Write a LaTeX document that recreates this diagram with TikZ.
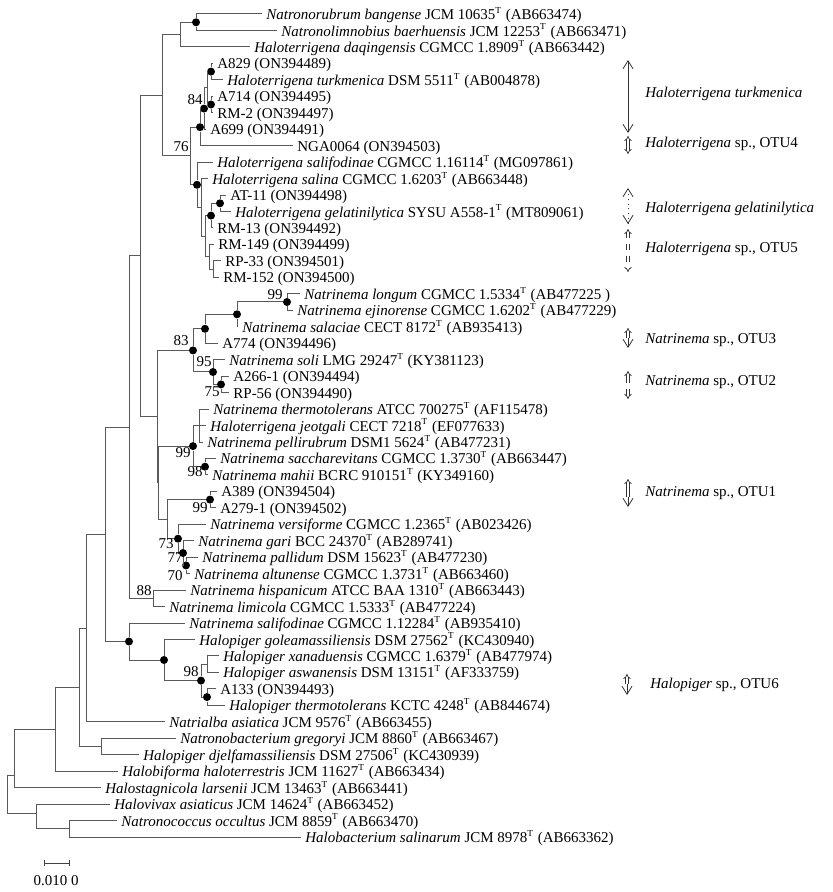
\documentclass[tikz,border=0pt]{standalone}
\usepackage{fontspec}
\setmainfont{Liberation Serif}
\usetikzlibrary{arrows.meta}
\newcommand{\treefont}{\fontsize{7.5}{9}\selectfont}
\newcommand{\typemark}{\textsuperscript{\fontsize{4.6}{5}\selectfont T}}
\newcommand{\typestrain}[3]{\textit{#1} #2\typemark{} (#3)}
\newcommand{\isolate}[2]{#1 (#2)}
\tikzset{
    %Define standard branch and tips
    branch/.style={
      draw=black!65, line width=0.5pt,
      to path={|- (\tikztotarget)}},
    leaf/.style={
      anchor=west, inner xsep=2pt, inner ysep=0pt,
      text height=1.5ex, text depth=0.3ex,
      font=\treefont},
    dot/.style={
      circle, fill=black,
      inner sep=0pt, minimum size=4pt},
    boot/.style={
      inner sep=0pt, font=\treefont},
    cladename/.style={
      anchor=west, inner sep=0pt, font=\treefont},
    rangeline/.style={
      draw=black!80, line width=0.4pt,
      {Straight Barb[length=4pt,width=5pt]}-{Straight Barb[length=4pt,width=5pt]}},
    rangedouble/.style={
      draw=black!80, line width=0.35pt, double, double distance=0.9pt,
      {Implies}-{Implies}},
    rangeup/.style={
      draw=black!80, line width=0.35pt, double, double distance=0.9pt,
      -{Implies}},
    rangedown/.style={
      draw=black!80, line width=0.4pt,
      -{Straight Barb[length=4pt,width=5pt]}},
}

\begin{document}
\begin{tikzpicture}[x=0.5pt, y=-0.5pt]
    \useasboundingbox (0,0) rectangle (832,892);
    % leaves
    \node (bangense) [leaf] at (262,14.0)
          {\typestrain{Natronorubrum bangense}{JCM 10635}{AB663474}};
    \node (baerhuensis) [leaf] at (277,30.5)
          {\typestrain{Natronolimnobius baerhuensis}{JCM 12253}{AB663471}};
    \node (daqingensis) [leaf] at (250,46.9)
          {\typestrain{Haloterrigena daqingensis}{CGMCC 1.8909}{AB663442}};
    \node (a829) [leaf] at (213,63.4)
          {\isolate{A829}{ON394489}};
    \node (turkmenica) [leaf] at (223,79.8)
          {\typestrain{Haloterrigena turkmenica}{DSM 5511}{AB004878}};
    \node (a714) [leaf] at (213,96.3)
          {\isolate{A714}{ON394495}};
    \node (rm2) [leaf] at (213,112.8)
          {\isolate{RM-2}{ON394497}};
    \node (a699) [leaf] at (206,129.2)
          {\isolate{A699}{ON394491}};
    \node (nga0064) [leaf] at (293,145.7)
          {\isolate{NGA0064}{ON394503}};
    \node (salifodinae) [leaf] at (213,162.1)
          {\typestrain{Haloterrigena salifodinae}{CGMCC 1.16114}{MG097861}};
    \node (salina) [leaf] at (208,178.6)
          {\typestrain{Haloterrigena salina}{CGMCC 1.6203}{AB663448}};
    \node (at11) [leaf] at (226,195.1)
          {\isolate{AT-11}{ON394498}};
    \node (gelatinilytica) [leaf] at (231,211.5)
          {\typestrain{Haloterrigena gelatinilytica}{SYSU A558-1}{MT809061}};
    \node (rm13) [leaf] at (213,228.0)
          {\isolate{RM-13}{ON394492}};
    \node (rm149) [leaf] at (214,244.4)
          {\isolate{RM-149}{ON394499}};
    \node (rp33) [leaf] at (221,260.9)
          {\isolate{RP-33}{ON394501}};
    \node (rm152) [leaf] at (219,277.4)
          {\isolate{RM-152}{ON394500}};
    \node (longum) [leaf] at (300,293.8)
          {\typestrain{Natrinema longum}{CGMCC 1.5334}{AB477225 }};
    \node (ejinorense) [leaf] at (293,310.3)
          {\typestrain{Natrinema ejinorense}{CGMCC 1.6202}{AB477229}};
    \node (salaciae) [leaf] at (238,326.7)
          {\typestrain{Natrinema salaciae}{CECT 8172}{AB935413}};
    \node (a774) [leaf] at (218,343.2)
          {\isolate{A774}{ON394496}};
    \node (soli) [leaf] at (225,359.7)
          {\typestrain{Natrinema soli}{LMG 29247}{KY381123}};
    \node (a2661) [leaf] at (229,376.1)
          {\isolate{A266-1}{ON394494}};
    \node (rp56) [leaf] at (229,392.6)
          {\isolate{RP-56}{ON394490}};
    \node (thermotolerans) [leaf] at (209,409.0)
          {\typestrain{Natrinema thermotolerans}{ATCC 700275}{AF115478}};
    \node (jeotgali) [leaf] at (206,425.5)
          {\typestrain{Haloterrigena jeotgali}{CECT 7218}{EF077633}};
    \node (pellirubrum) [leaf] at (203,442.0)
          {\typestrain{Natrinema pellirubrum}{DSM1 5624}{AB477231}};
    \node (saccharevitans) [leaf] at (216,458.4)
          {\typestrain{Natrinema saccharevitans}{CGMCC 1.3730}{AB663447}};
    \node (mahii) [leaf] at (208,474.9)
          {\typestrain{Natrinema mahii}{BCRC 910151}{KY349160}};
    \node (a389) [leaf] at (217,491.3)
          {\isolate{A389}{ON394504}};
    \node (a2791) [leaf] at (216,507.8)
          {\isolate{A279-1}{ON394502}};
    \node (versiforme) [leaf] at (206,524.3)
          {\typestrain{Natrinema versiforme}{CGMCC 1.2365}{AB023426}};
    \node (gari) [leaf] at (194,540.7)
          {\typestrain{Natrinema gari}{BCC 24370}{AB289741}};
    \node (pallidum) [leaf] at (198,557.2)
          {\typestrain{Natrinema pallidum}{DSM 15623}{AB477230}};
    \node (altunense) [leaf] at (190,573.6)
          {\typestrain{Natrinema altunense}{CGMCC 1.3731}{AB663460}};
    \node (hispanicum) [leaf] at (186,590.1)
          {\typestrain{Natrinema hispanicum}{ATCC BAA 1310}{AB663443}};
    \node (limicola) [leaf] at (165,606.6)
          {\typestrain{Natrinema limicola}{CGMCC 1.5333}{AB477224}};
    \node (nsalifodinae) [leaf] at (185,623.0)
          {\typestrain{Natrinema salifodinae}{CGMCC 1.12284}{AB935410}};
    \node (goleamassiliensis) [leaf] at (195,639.5)
          {\typestrain{Halopiger goleamassiliensis}{DSM 27562}{KC430940}};
    \node (xanaduensis) [leaf] at (219,655.9)
          {\typestrain{Halopiger xanaduensis}{CGMCC 1.6379}{AB477974}};
    \node (aswanensis) [leaf] at (219,672.4)
          {\typestrain{Halopiger aswanensis}{DSM 13151}{AF333759}};
    \node (a133) [leaf] at (216,688.9)
          {\isolate{A133}{ON394493}};
    \node (hthermotolerans) [leaf] at (225,705.3)
          {\typestrain{Halopiger thermotolerans}{KCTC 4248}{AB844674}};
    \node (asiatica) [leaf] at (165,721.8)
          {\typestrain{Natrialba asiatica}{JCM 9576}{AB663455}};
    \node (gregoryi) [leaf] at (176,738.2)
          {\typestrain{Natronobacterium gregoryi}{JCM 8860}{AB663467}};
    \node (djelfamassiliensis) [leaf] at (139,754.7)
          {\typestrain{Halopiger djelfamassiliensis}{DSM 27506}{KC430939}};
    \node (haloterrestris) [leaf] at (118,771.2)
          {\typestrain{Halobiforma haloterrestris}{JCM 11627}{AB663434}};
    \node (larsenii) [leaf] at (101,787.6)
          {\typestrain{Halostagnicola larsenii}{JCM 13463}{AB663441}};
    \node (asiaticus) [leaf] at (110,804.1)
          {\typestrain{Halovivax asiaticus}{JCM 14624}{AB663452}};
    \node (occultus) [leaf] at (117,820.5)
          {\typestrain{Natronococcus occultus}{JCM 8859}{AB663470}};
    \node (salinarum) [leaf] at (301,837.0)
          {\typestrain{Halobacterium salinarum}{JCM 8978}{AB663362}};

    % Haloterrigena clades
    \node (cNatrono) [dot] at (196,22.3) {}
          edge [branch] (bangense)
          edge [branch] (baerhuensis);
    \coordinate (cDaqing) at (180,34.6);
    \path (cDaqing) edge [branch] (cNatrono) edge [branch] (daqingensis);
    \node (cTurk) [dot] at (211,71.6) {}
          edge [branch] (a829)
          edge [branch] (turkmenica);
    \node (cRM2) [dot] at (211,104.5) {}
          edge [branch] (a714)
          edge [branch] (rm2);
    \coordinate (cTurkAll) at (207,88);
    \path (cTurkAll) edge [branch] (cTurk) edge [branch] (cRM2);
    \node (c84) [dot] at (204,108.6) {}
          edge [branch] (cTurkAll)
          edge [branch] (a699);
    \node (cNGA) [dot] at (200,127.2) {}
          edge [branch] (c84)
          edge [branch] (nga0064);
    \node (cGelat) [dot] at (220,203.3) {}
          edge [branch] (at11)
          edge [branch] (gelatinilytica);
    \node (cRM13) [dot] at (211,215.6) {}
          edge [branch] (cGelat)
          edge [branch] (rm13);
    \coordinate (cRP33) at (213,269.1);
    \path (cRP33) edge [branch] (rp33) edge [branch] (rm152);
    \coordinate (cRM149) at (209,256.8);
    \path (cRM149) edge [branch] (rm149) edge [branch] (cRP33);
    \coordinate (cOTU5) at (205,236.2);
    \path (cOTU5) edge [branch] (cRM13) edge [branch] (cRM149);
    \coordinate (cSalina) at (201,207.4);
    \path (cSalina) edge [branch] (salina) edge [branch] (cOTU5);
    \node (cSalif) [dot] at (197,184.8) {}
          edge [branch] (salifodinae)
          edge [branch] (cSalina);
    \coordinate (c76) at (190,156);
    \path (c76) edge [branch] (cNGA) edge [branch] (cSalif);
    \coordinate (cHaloter) at (162,95.3);
    \path (cHaloter) edge [branch] (cDaqing) edge [branch] (c76);

    % Natrinema clades
    \node (cLongum) [dot] at (287,302) {}
          edge [branch] (longum)
          edge [branch] (ejinorense);
    \node (cSalac) [dot] at (237,314.3) {}
          edge [branch] (cLongum)
          edge [branch] (salaciae);
    \node (cA774) [dot] at (205,328.8) {}
          edge [branch] (cSalac)
          edge [branch] (a774);
    \node (cRP56) [dot] at (221,384.4) {}
          edge [branch] (a2661)
          edge [branch] (rp56);
    \node (cSoli) [dot] at (213,372) {}
          edge [branch] (soli)
          edge [branch] (cRP56);
    \node (c83) [dot] at (193,350.4) {}
          edge [branch] (cA774)
          edge [branch] (cSoli);
    \coordinate (cThermo) at (199,425.5);
    \path (cThermo) edge [branch] (thermotolerans)
          edge [branch] (jeotgali) edge [branch] (pellirubrum);
    \node (cMahii) [dot] at (205,466.7) {}
          edge [branch] (saccharevitans)
          edge [branch] (mahii);
    \node (cPelli) [dot] at (193,446.1) {}
          edge [branch] (cThermo)
          edge [branch] (cMahii);
    \node (cA389) [dot] at (210,499.6) {}
          edge [branch] (a389)
          edge [branch] (a2791);
    \node (cAltun) [dot] at (186,565.4) {}
          edge [branch] (pallidum)
          edge [branch] (altunense);
    \node (cGari) [dot] at (183,553) {}
          edge [branch] (gari)
          edge [branch] (cAltun);
    \node (cVersi) [dot] at (178,538.7) {}
          edge [branch] (versiforme)
          edge [branch] (cGari);
    \coordinate (cOTU1) at (167,519.1);
    \path (cOTU1) edge [branch] (cA389) edge [branch] (cVersi);
    \coordinate (cNatriB) at (158,482.6);
    \path (cNatriB) edge [branch] (cPelli) edge [branch] (cOTU1);
    \coordinate (cNatriA) at (157,416.5);
    \path (cNatriA) edge [branch] (c83) edge [branch] (cNatriB);
    \coordinate (cUpper) at (140,255.9);
    \path (cUpper) edge [branch] (cHaloter) edge [branch] (cNatriA);
    \coordinate (cHisp) at (153,598.4);
    \path (cHisp) edge [branch] (hispanicum) edge [branch] (limicola);
    \coordinate (cCore) at (129,427);
    \path (cCore) edge [branch] (cUpper) edge [branch] (cHisp);

    % Halopiger and outgroups
    \coordinate (cXanadu) at (207,664.2);
    \path (cXanadu) edge [branch] (xanaduensis) edge [branch] (aswanensis);
    \node (cA133) [dot] at (207,697.1) {}
          edge [branch] (a133)
          edge [branch] (hthermotolerans);
    \node (cHalopig) [dot] at (201,680.6) {}
          edge [branch] (cXanadu)
          edge [branch] (cA133);
    \node (cGolea) [dot] at (164,660) {}
          edge [branch] (goleamassiliensis)
          edge [branch] (cHalopig);
    \node (cNsalif) [dot] at (129,641.5) {}
          edge [branch] (nsalifodinae)
          edge [branch] (cGolea);
    \coordinate (cBig) at (105,534);
    \path (cBig) edge [branch] (cCore) edge [branch] (cNsalif);
    \coordinate (cNatrialba) at (86,628);
    \path (cNatrialba) edge [branch] (cBig) edge [branch] (asiatica);
    \coordinate (cGreg) at (101,746.5);
    \path (cGreg) edge [branch] (gregoryi) edge [branch] (djelfamassiliensis);
    \coordinate (cMid) at (79,687);
    \path (cMid) edge [branch] (cNatrialba) edge [branch] (cGreg);
    \coordinate (cHalobif) at (55,729);
    \path (cHalobif) edge [branch] (cMid) edge [branch] (haloterrestris);
    \coordinate (cHalostag) at (14,775);
    \path (cHalostag) edge [branch] (cHalobif) edge [branch] (larsenii);
    \coordinate (cOccult) at (69,828.8);
    \path (cOccult) edge [branch] (occultus) edge [branch] (salinarum);
    \coordinate (cHalovivax) at (36,813);
    \path (cHalovivax) edge [branch] (asiaticus) edge [branch] (cOccult);
    \coordinate (root) at (7,794);
    \path (root) edge [branch] (cHalostag) edge [branch] (cHalovivax);

    % bootstrap values
    \node (b84) [boot] at (195,100) {84};
    \node (b76) [boot] at (181,147) {76};
    \node (b99l) [boot] at (275,295) {99};
    \node (b83) [boot] at (181,341) {83};
    \node (b95) [boot] at (204,362) {95};
    \node (b75) [boot] at (212,392) {75};
    \node (b99p) [boot] at (183,453) {99};
    \node (b98m) [boot] at (195,472) {98};
    \node (b99a) [boot] at (200,508) {99};
    \node (b73) [boot] at (166,543.5) {73};
    \node (b77) [boot] at (175,557.5) {77};
    \node (b70) [boot] at (175,575.5) {70};
    \node (b88) [boot] at (144,591) {88};
    \node (b98h) [boot] at (191,672) {98};

    % clade ranges
    \coordinate (turkTop) at (628,60);
    \coordinate (turkBot) at (628,133);
    \draw [rangeline] (turkTop) -- (turkBot);
    \node (turkName) [cladename] at (645,94) {\textit{Haloterrigena turkmenica}};
    \coordinate (otu4Top) at (628,136);
    \coordinate (otu4Bot) at (628,154);
    \draw [rangedouble] (otu4Top) -- (otu4Bot);
    \node (otu4Name) [cladename] at (645,144) {\textit{Haloterrigena} sp., OTU4};
    \coordinate (gelTop) at (628,188);
    \coordinate (gelBot) at (628,224);
    \draw [rangeline, dotted] (gelTop) -- (gelBot);
    \node (gelName) [cladename] at (645,209) {\textit{Haloterrigena gelatinilytica}};
    \coordinate (otu5Top) at (628,229);
    \coordinate (otu5Bot) at (628,272);
    \draw [rangedouble, dashed] (otu5Top) -- (otu5Bot);
    \node (otu5Name) [cladename] at (645,249) {\textit{Haloterrigena} sp., OTU5};
    \coordinate (otu3Top) at (628,328);
    \coordinate (otu3Mid) at (628,338);
    \coordinate (otu3Bot) at (628,348);
    \draw [rangeup] (otu3Mid) -- (otu3Top);
    \draw [rangedown] (otu3Mid) -- (otu3Bot);
    \node (otu3Name) [cladename] at (645,340) {\textit{Natrinema} sp., OTU3};
    \coordinate (otu2Top) at (628,371);
    \coordinate (otu2Up) at (628,383);
    \coordinate (otu2Down) at (628,389);
    \coordinate (otu2Bot) at (628,399);
    \draw [rangeup] (otu2Up) -- (otu2Top);
    \draw [rangeup] (otu2Down) -- (otu2Bot);
    \node (otu2Name) [cladename] at (645,382) {\textit{Natrinema} sp., OTU2};
    \coordinate (otu1Top) at (628,479);
    \coordinate (otu1Mid) at (628,497);
    \coordinate (otu1Bot) at (628,507);
    \draw [rangeup] (otu1Mid) -- (otu1Top);
    \draw [rangedown] (otu1Mid) -- (otu1Bot);
    \node (otu1Name) [cladename] at (645,493) {\textit{Natrinema} sp., OTU1};
    \coordinate (otu6Top) at (627,674);
    \coordinate (otu6Mid) at (627,684);
    \coordinate (otu6Bot) at (627,695);
    \draw [rangeup] (otu6Mid) -- (otu6Top);
    \draw [rangedown] (otu6Mid) -- (otu6Bot);
    \node (otu6Name) [cladename] at (650,685) {\textit{Halopiger} sp., OTU6};

    % scale bar
    \coordinate (barL) at (44,863);
    \coordinate (barR) at (70,863);
    \draw [draw=black!75, line width=0.5pt, {Bar[width=3pt]}-{Bar[width=3pt]}] (barL) -- (barR);
    \node (barLabel) [boot] at (56,881) {0.010 0};
\end{tikzpicture}
\end{document}
